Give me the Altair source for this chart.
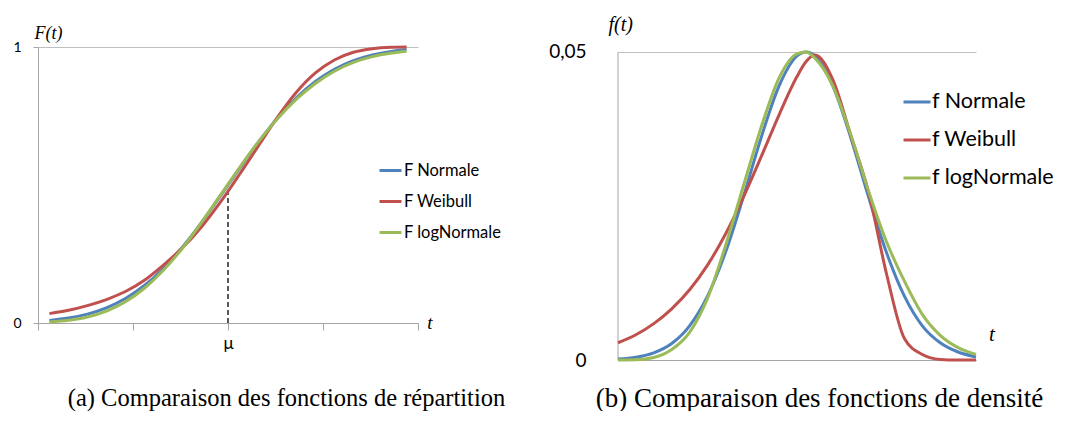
import altair as alt
import pandas as pd

# ---------------- data ----------------
# (a) cumulative distribution functions F(t)
t_cdf = [3, 8, 13, 18, 23, 28, 33, 38, 43, 48, 53, 58, 63, 68, 73, 78, 83, 88, 93, 97]
F_normale = [0.0094, 0.0179, 0.0322, 0.0548, 0.0885, 0.1357, 0.1977, 0.2743, 0.3632, 0.4602,
             0.5596, 0.6554, 0.7422, 0.8159, 0.8749, 0.9192, 0.9505, 0.9713, 0.9842, 0.9906]
F_weibull = [0.034, 0.046, 0.063, 0.085, 0.114, 0.155, 0.210, 0.272, 0.348, 0.438,
             0.538, 0.642, 0.745, 0.836, 0.906, 0.953, 0.981, 0.994, 0.999, 1.0]
F_lognormale = [0.004, 0.010, 0.022, 0.043, 0.077, 0.126, 0.191, 0.271, 0.364, 0.463,
                0.562, 0.656, 0.740, 0.811, 0.868, 0.912, 0.944, 0.965, 0.978, 0.985]

# (b) density functions f(t)
t_pdf = [0, 5, 10, 15, 20, 25, 30, 35, 40, 45, 50, 52.5, 55, 60, 65, 70, 75, 80, 85, 90, 95, 100]
f_normale = [0.00016, 0.00046, 0.00117, 0.00268, 0.00555, 0.01036, 0.01743, 0.02644, 0.03612, 0.04448,
             0.04935, 0.0500, 0.04935, 0.04448, 0.03612, 0.02644, 0.01743, 0.01036, 0.00555, 0.0028,
             0.0013, 0.0005]
f_weibull = [0.0028, 0.0041, 0.0059, 0.0083, 0.0114, 0.0154, 0.0204, 0.0264, 0.0330, 0.0398,
             0.0460, 0.0484, 0.0495, 0.0455, 0.0365, 0.0272, 0.0140, 0.0035, 0.0009, 0.0001,
             0.0, 0.0]
f_lognormale = [0.0, 0.00003, 0.0004, 0.0017, 0.0045, 0.0100, 0.0185, 0.0282, 0.0378, 0.0458,
                0.0497, 0.0500, 0.0490, 0.0445, 0.0366, 0.0274, 0.0192, 0.0128, 0.0074, 0.0040,
                0.0020, 0.0009]

series_cdf = ["F Normale", "F Weibull", "F logNormale"]
series_pdf = ["f Normale", "f Weibull", "f logNormale"]
colors = ["#4F81BD", "#C0504D", "#9BBB59"]

mu_t = [50]          # position of mu on the t axis
mu_F = [0.475]       # height of the dashed line (curve value at mu)
t_end = [100]        # end of the t axis (where the "t" label sits)
f_top = [0.05]       # top tick of the density axis

caption_a = "(a) Comparaison des fonctions de répartition"
caption_b = "(b) Comparaison des fonctions de densité"

GRAY_AXIS = "#A6A6A6"
GRAY_GRID = "#BFBFBF"


def to_long(t, names, lists, yname):
    rows = []
    for name, vals in zip(names, lists):
        for tt, v in zip(t, vals):
            rows.append({"t": tt, yname: v, "serie": name})
    return pd.DataFrame(rows)


cdf = to_long(t_cdf, series_cdf, [F_normale, F_weibull, F_lognormale], "F")
pdf = to_long(t_pdf, series_pdf, [f_normale, f_weibull, f_lognormale], "f")

# ---------------- left panel ----------------
xl = alt.X(
    "t:Q",
    scale=alt.Scale(domain=[0, 100], nice=False, zero=False),
    axis=alt.Axis(
        values=[0, 25, 50, 75, 100],
        labelExpr="datum.value == 50 ? 'μ' : ''",
        tickSize=7, tickColor=GRAY_AXIS, domainColor=GRAY_AXIS, grid=False,
        labelFont="Lato", labelFontSize=17, labelColor="black", labelPadding=5,
        title=caption_a, titleFont="Liberation Serif", titleFontSize=24.5,
        titleFontWeight="normal", titleColor="black",
        titleX=248, titleY=75, titleAlign="center", titleBaseline="middle",
    ),
)
yl = alt.Y(
    "F:Q",
    scale=alt.Scale(domain=[0, 1], nice=False),
    axis=alt.Axis(
        values=[0, 1], format="d",
        tickSize=5, tickColor=GRAY_AXIS, domainColor=GRAY_AXIS,
        grid=True, gridColor=GRAY_GRID,
        labelFont="Lato", labelFontSize=14, labelColor="black", labelPadding=12,
        title="F(t)", titleFont="Liberation Serif", titleFontStyle="italic",
        titleFontWeight="normal", titleFontSize=18, titleColor="black",
        titleAngle=0, titleX=-4, titleY=-14, titleAlign="left", titleBaseline="middle",
    ),
)

lines_l = alt.Chart(cdf).mark_line(strokeWidth=3, interpolate="monotone").encode(
    x=xl, y=yl,
    color=alt.Color(
        "serie:N",
        scale=alt.Scale(domain=series_cdf, range=colors),
        legend=alt.Legend(
            orient="none", legendX=340, legendY=111, title=None,
            symbolType="stroke", symbolStrokeWidth=3, symbolSize=484,
            labelFont="Lato", labelFontSize=16.5, labelColor="black",
            labelOffset=1, rowPadding=10, padding=0,
        ),
    ),
)

mu_df = pd.DataFrame({"t": mu_t, "F": [0] * len(mu_t), "F2": mu_F})
rule_l = alt.Chart(mu_df).mark_rule(strokeDash=[5, 3], color="black", strokeWidth=1.3).encode(
    x="t:Q", y="F:Q", y2="F2:Q"
)

tlab_l = alt.Chart(pd.DataFrame({"t": t_end, "F": [0], "lab": ["t"]})).mark_text(
    dx=12, font="Liberation Serif", fontStyle="italic", fontSize=19, align="center",
    baseline="middle", color="black"
).encode(x="t:Q", y="F:Q", text="lab:N")

left = alt.layer(rule_l, lines_l, tlab_l).properties(width=380, height=276)

# ---------------- right panel ----------------
xr = alt.X(
    "t:Q",
    scale=alt.Scale(domain=[0, 100], nice=False, zero=False),
    axis=alt.Axis(
        labels=False, ticks=False, grid=False, domainColor=GRAY_AXIS,
        title=caption_b, titleFont="Liberation Serif", titleFontSize=27,
        titleFontWeight="normal", titleColor="black",
        titleX=201, titleY=38, titleAlign="center", titleBaseline="middle",
    ),
)
yr = alt.Y(
    "f:Q",
    scale=alt.Scale(domain=[0, 0.0508], nice=False),
    axis=alt.Axis(
        values=[0, 0.05],
        labelExpr="datum.value == 0 ? '0' : replace(format(datum.value, '.2f'), '.', ',')",
        tickSize=0, domain=False, grid=True, gridColor=GRAY_GRID,
        labelFont="Lato", labelFontSize=19, labelColor="black", labelPadding=32,
        title="f(t)", titleFont="Liberation Serif", titleFontStyle="italic",
        titleFontWeight="normal", titleFontSize=20, titleColor="black",
        titleAngle=0, titleX=-10, titleY=-23, titleAlign="left", titleBaseline="middle",
    ),
)

lines_r = alt.Chart(pdf).mark_line(strokeWidth=3, interpolate="monotone").encode(
    x=xr, y=yr,
    color=alt.Color(
        "serie:N",
        scale=alt.Scale(domain=series_pdf, range=colors),
        legend=alt.Legend(
            orient="none", legendX=284, legendY=40, title=None,
            symbolType="stroke", symbolStrokeWidth=3, symbolSize=729,
            labelFont="Lato", labelFontSize=21.5, labelColor="black",
            labelOffset=0, rowPadding=12, padding=0,
        ),
    ),
)

axis_r = alt.Chart(pd.DataFrame({"t": [0], "f": [0], "f2": f_top})).mark_rule(
    color=GRAY_AXIS, strokeWidth=1
).encode(x="t:Q", y="f:Q", y2="f2:Q")

tlab_r = alt.Chart(pd.DataFrame({"t": t_end, "f": [0], "lab": ["t"]})).mark_text(
    dx=16, dy=-25, font="Liberation Serif", fontStyle="italic", fontSize=21, align="center",
    baseline="middle", color="black"
).encode(x="t:Q", y="f:Q", text="lab:N")

right = alt.layer(axis_r, lines_r, tlab_r).properties(width=358, height=313)

chart = alt.hconcat(left, right, spacing=43, bounds="full", center=False).resolve_scale(
    color="independent"
).properties(
    padding={"left": 4, "top": 6, "right": 0, "bottom": 0}
).configure_view(stroke=None)

chart.save("out.html", embed_options={"renderer": "svg", "actions": False})
